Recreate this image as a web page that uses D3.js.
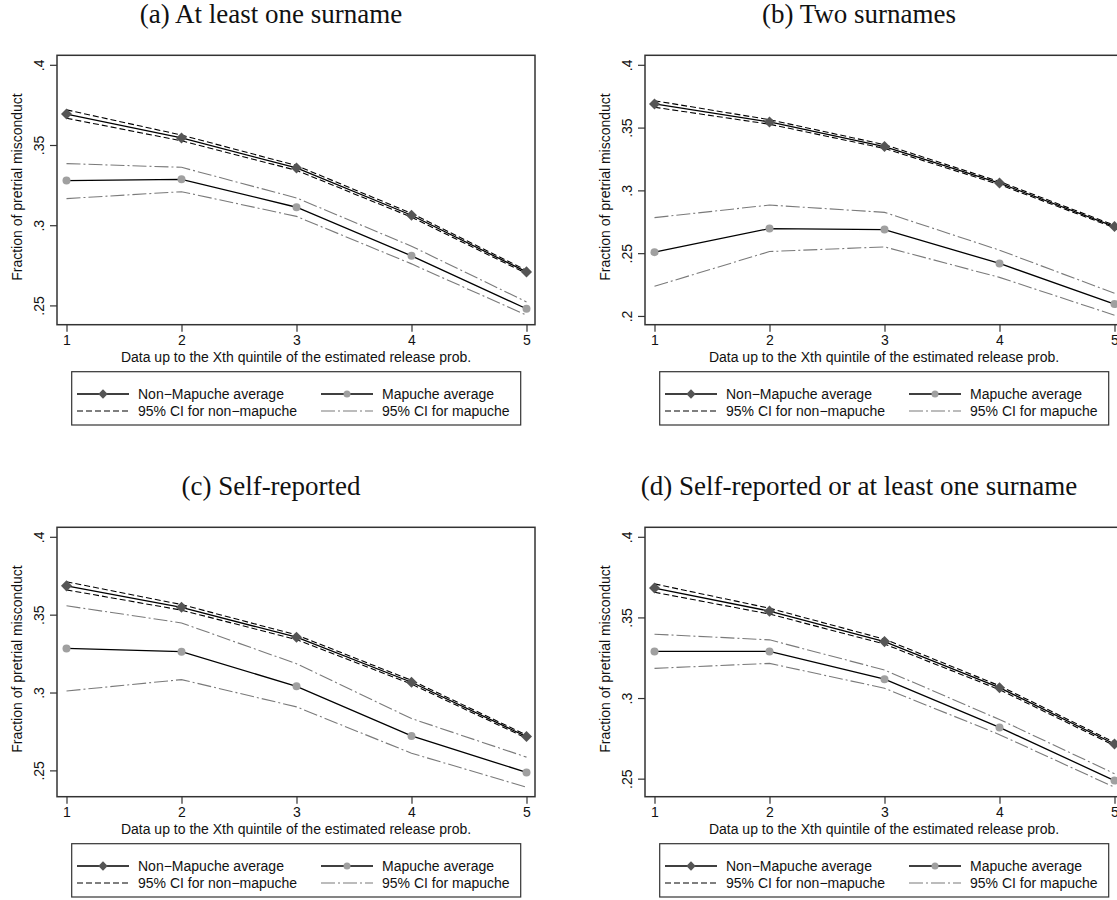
<!DOCTYPE html>
<html>
<head>
<meta charset="utf-8">
<script src="https://cdn.jsdelivr.net/npm/d3@7"></script>
<style>
   html, body { margin: 0; padding: 0; background: #fff; }
   svg { display: block; background: #fff; }
   .sans { font-family: 'Liberation Sans', Arial, Helvetica, sans-serif; font-size: 14px; fill: #111; }
   .serif { font-family: 'Liberation Serif', 'Times New Roman', serif; font-size: 27px; fill: #111; }
</style>
</head>
<body>
<svg id="chart" width="1117" height="900"></svg>
<script>
// x categories (quintile the data goes up to)
const quintiles = [ 1, 2, 3, 4, 5 ];

const titles = [
   '(a) At least one surname',
   '(b) Two surnames',
   '(c) Self-reported',
   '(d) Self-reported or at least one surname'
];

const yTicksWide = [ 0.25, 0.3, 0.35, 0.4 ];
const yTicksTwo = [ 0.2, 0.25, 0.3, 0.35, 0.4 ];

// (a) At least one surname
const nonMapucheA = [ 0.3693, 0.3544, 0.3357, 0.3062, 0.2709 ];
const nonMapucheLoA = [ 0.3667, 0.3526, 0.3342, 0.3050, 0.2699 ];
const nonMapucheHiA = [ 0.3719, 0.3562, 0.3372, 0.3074, 0.2719 ];
const mapucheA = [ 0.3278, 0.3286, 0.3112, 0.2809, 0.2479 ];
const mapucheLoA = [ 0.3166, 0.3209, 0.3055, 0.2759, 0.2439 ];
const mapucheHiA = [ 0.3384, 0.3361, 0.3170, 0.2869, 0.2522 ];

// (b) Two surnames
const nonMapucheB = [ 0.3688, 0.3545, 0.3349, 0.3058, 0.2712 ];
const nonMapucheLoB = [ 0.3662, 0.3527, 0.3334, 0.3046, 0.2702 ];
const nonMapucheHiB = [ 0.3714, 0.3563, 0.3364, 0.3070, 0.2722 ];
const mapucheB = [ 0.2508, 0.2696, 0.2688, 0.2418, 0.2095 ];
const mapucheLoB = [ 0.2236, 0.2513, 0.2550, 0.2307, 0.2006 ];
const mapucheHiB = [ 0.2783, 0.2883, 0.2825, 0.2524, 0.2180 ];

// (c) Self-reported
const nonMapucheC = [ 0.3685, 0.3547, 0.3355, 0.3066, 0.2717 ];
const nonMapucheLoC = [ 0.3659, 0.3529, 0.3340, 0.3054, 0.2707 ];
const nonMapucheHiC = [ 0.3711, 0.3565, 0.3370, 0.3078, 0.2727 ];
const mapucheC = [ 0.3283, 0.3262, 0.3040, 0.2721, 0.2487 ];
const mapucheLoC = [ 0.3010, 0.3083, 0.2908, 0.2610, 0.2392 ];
const mapucheHiC = [ 0.3557, 0.3447, 0.3185, 0.2833, 0.2585 ];

// (d) Self-reported or at least one surname
const nonMapucheD = [ 0.3682, 0.3539, 0.3350, 0.3064, 0.2715 ];
const nonMapucheLoD = [ 0.3656, 0.3521, 0.3335, 0.3052, 0.2705 ];
const nonMapucheHiD = [ 0.3708, 0.3557, 0.3365, 0.3076, 0.2725 ];
const mapucheD = [ 0.3289, 0.3289, 0.3117, 0.2818, 0.2488 ];
const mapucheLoD = [ 0.3184, 0.3215, 0.3061, 0.2773, 0.2447 ];
const mapucheHiD = [ 0.3396, 0.3361, 0.3174, 0.2867, 0.2531 ];

const legendLabels = [
   'Non\u2212Mapuche average', 'Mapuche average',
   '95% CI for non\u2212mapuche', '95% CI for mapuche'
];

const yTitle = 'Fraction of pretrial misconduct';
const xTitle = 'Data up to the Xth quintile of the estimated release prob.';

///////////////////////////////////////////////////////////////////////////////////////////////////////////////////////

const COL_STEP = 588;
const ROW_STEP = 472;
const FRAME = { left: 57, right: 535, top: 55.3, bottom: 324.7 };
const PAD = 9.5;
const AXIS_COLOR = '#333';

const styles = {
   nonMean: { stroke: '#000', width: 1.3, dash: null },
   mapMean: { stroke: '#000', width: 1.3, dash: null },
   nonCi: { stroke: '#000', width: 1.1, dash: '6,3' },
   mapCi: { stroke: '#7a7a7a', width: 1.1, dash: '14,3,2,3' }
};

const panels = [
   { title: titles[ 0 ], col: 0, row: 0, yTicks: yTicksWide,
     nonMean: nonMapucheA, nonLo: nonMapucheLoA, nonHi: nonMapucheHiA,
     mapMean: mapucheA, mapLo: mapucheLoA, mapHi: mapucheHiA },
   { title: titles[ 1 ], col: 1, row: 0, yTicks: yTicksTwo,
     nonMean: nonMapucheB, nonLo: nonMapucheLoB, nonHi: nonMapucheHiB,
     mapMean: mapucheB, mapLo: mapucheLoB, mapHi: mapucheHiB },
   { title: titles[ 2 ], col: 0, row: 1, yTicks: yTicksWide,
     nonMean: nonMapucheC, nonLo: nonMapucheLoC, nonHi: nonMapucheHiC,
     mapMean: mapucheC, mapLo: mapucheLoC, mapHi: mapucheHiC },
   { title: titles[ 3 ], col: 1, row: 1, yTicks: yTicksWide,
     nonMean: nonMapucheD, nonLo: nonMapucheLoD, nonHi: nonMapucheHiD,
     mapMean: mapucheD, mapLo: mapucheLoD, mapHi: mapucheHiD }
];

const svg = d3.select( '#chart' );
panels.forEach( panel => renderPanel( svg, panel ) );

///////////////////////////////////////////////////////////////////////////////////////////////////////////////////////

function stataFormat( value ) {
   // Stata drops the leading zero: .25, .3, .4
   return d3.format( '' )( +value.toFixed( 2 ) ).replace( /^0\./, '.' );
}

function applyStyle( selection, style ) {
   return selection
      .attr( 'fill', 'none' )
      .attr( 'stroke', style.stroke )
      .attr( 'stroke-width', style.width )
      .attr( 'stroke-dasharray', style.dash );
}

function renderPanel( svg, panel ) {
   const g = svg.append( 'g' )
      .attr( 'transform', `translate(${panel.col * COL_STEP},${panel.row * ROW_STEP})` );

   const allValues = [ panel.nonMean, panel.nonLo, panel.nonHi, panel.mapMean, panel.mapLo, panel.mapHi ].flat();
   const x = d3.scaleLinear()
      .domain( d3.extent( quintiles ) )
      .range( [ 66.5, 526.5 ] );
   const y = d3.scaleLinear()
      .domain( [ d3.min( allValues ), Math.max( 0.4, d3.max( allValues ) ) ] )
      .range( [ FRAME.bottom - PAD, FRAME.top + PAD ] );

   g.append( 'text' )
      .attr( 'class', 'serif' )
      .attr( 'x', 271 )
      .attr( 'y', 23 )
      .attr( 'text-anchor', 'middle' )
      .text( panel.title );

   // series lines, CI first so the means sit on top
   const line = d3.line()
      .x( ( d, i ) => x( quintiles[ i ] ) )
      .y( d => y( d ) );
   const plot = g.append( 'g' );
   [
      [ panel.mapLo, styles.mapCi ], [ panel.mapHi, styles.mapCi ],
      [ panel.nonLo, styles.nonCi ], [ panel.nonHi, styles.nonCi ],
      [ panel.mapMean, styles.mapMean ], [ panel.nonMean, styles.nonMean ]
   ].forEach( ( [ values, style ] ) => {
      plot.append( 'path' )
         .attr( 'd', line( values ) )
         .call( applyStyle, style );
   } );

   plot.selectAll( 'circle.map' )
      .data( panel.mapMean )
      .join( 'circle' )
      .attr( 'class', 'map' )
      .attr( 'cx', ( d, i ) => x( quintiles[ i ] ) )
      .attr( 'cy', d => y( d ) )
      .attr( 'r', 4 )
      .attr( 'fill', '#a0a0a0' );

   const diamond = d3.symbol().type( d3.symbolDiamond2 ).size( 78 );
   plot.selectAll( 'path.non' )
      .data( panel.nonMean )
      .join( 'path' )
      .attr( 'class', 'non' )
      .attr( 'd', diamond )
      .attr( 'transform', ( d, i ) => `translate(${x( quintiles[ i ] )},${y( d )})` )
      .attr( 'fill', '#555' );

   // frame
   g.append( 'rect' )
      .attr( 'x', FRAME.left )
      .attr( 'y', FRAME.top )
      .attr( 'width', FRAME.right - FRAME.left )
      .attr( 'height', FRAME.bottom - FRAME.top )
      .attr( 'fill', 'none' )
      .attr( 'stroke', AXIS_COLOR )
      .attr( 'stroke-width', 1.5 );

   // axes
   const yAxis = g.append( 'g' )
      .attr( 'transform', `translate(${FRAME.left},0)` )
      .call( d3.axisLeft( y ).tickValues( panel.yTicks ).tickSize( 7 ).tickFormat( stataFormat ) );
   yAxis.select( '.domain' ).remove();
   yAxis.selectAll( '.tick line' ).attr( 'stroke', AXIS_COLOR ).attr( 'stroke-width', 1.2 );
   yAxis.selectAll( '.tick text' )
      .attr( 'class', 'sans' )
      .attr( 'x', null )
      .attr( 'dy', null )
      .attr( 'text-anchor', 'middle' )
      .attr( 'transform', 'translate(-13,0) rotate(-90)' );

   const xAxis = g.append( 'g' )
      .attr( 'transform', `translate(0,${FRAME.bottom})` )
      .call( d3.axisBottom( x ).tickValues( quintiles ).tickSize( 7 ).tickFormat( d3.format( 'd' ) ) );
   xAxis.select( '.domain' ).remove();
   xAxis.selectAll( '.tick line' ).attr( 'stroke', AXIS_COLOR ).attr( 'stroke-width', 1.2 );
   xAxis.selectAll( '.tick text' ).attr( 'class', 'sans' );
   g.selectAll( '.tick text' ).attr( 'fill', null );

   g.append( 'text' )
      .attr( 'class', 'sans' )
      .attr( 'text-anchor', 'middle' )
      .attr( 'transform', `translate(22,${( FRAME.top + FRAME.bottom ) / 2 - 3}) rotate(-90)` )
      .text( yTitle );

   g.append( 'text' )
      .attr( 'class', 'sans' )
      .attr( 'text-anchor', 'middle' )
      .attr( 'x', ( FRAME.left + FRAME.right ) / 2 )
      .attr( 'y', 362 )
      .text( xTitle );

   renderLegend( g );
}

function renderLegend( g ) {
   const legend = g.append( 'g' );
   legend.append( 'rect' )
      .attr( 'x', 71.7 )
      .attr( 'y', 371.7 )
      .attr( 'width', 449 )
      .attr( 'height', 53.3 )
      .attr( 'fill', '#fff' )
      .attr( 'stroke', AXIS_COLOR )
      .attr( 'stroke-width', 1.2 );

   const items = [
      { label: legendLabels[ 0 ], style: styles.nonMean, marker: 'diamond' },
      { label: legendLabels[ 1 ], style: styles.mapMean, marker: 'circle' },
      { label: legendLabels[ 2 ], style: styles.nonCi, marker: null },
      { label: legendLabels[ 3 ], style: styles.mapCi, marker: null }
   ];
   const colX = [ 77, 321 ];
   const rowY = [ 394, 411 ];

   items.forEach( ( item, i ) => {
      const x0 = colX[ i % 2 ];
      const y0 = rowY[ Math.floor( i / 2 ) ];
      legend.append( 'line' )
         .attr( 'x1', x0 )
         .attr( 'x2', x0 + 52 )
         .attr( 'y1', y0 )
         .attr( 'y2', y0 )
         .call( applyStyle, item.style );
      if( item.marker === 'diamond' ) {
         legend.append( 'path' )
            .attr( 'd', d3.symbol().type( d3.symbolDiamond2 ).size( 56 ) )
            .attr( 'transform', `translate(${x0 + 26},${y0})` )
            .attr( 'fill', '#555' );
      }
      else if( item.marker === 'circle' ) {
         legend.append( 'circle' )
            .attr( 'cx', x0 + 26 )
            .attr( 'cy', y0 )
            .attr( 'r', 3.5 )
            .attr( 'fill', '#a0a0a0' );
      }
      legend.append( 'text' )
         .attr( 'class', 'sans' )
         .attr( 'x', x0 + 61 )
         .attr( 'y', y0 + 5 )
         .text( item.label );
   } );
}
</script>
</body>
</html>
